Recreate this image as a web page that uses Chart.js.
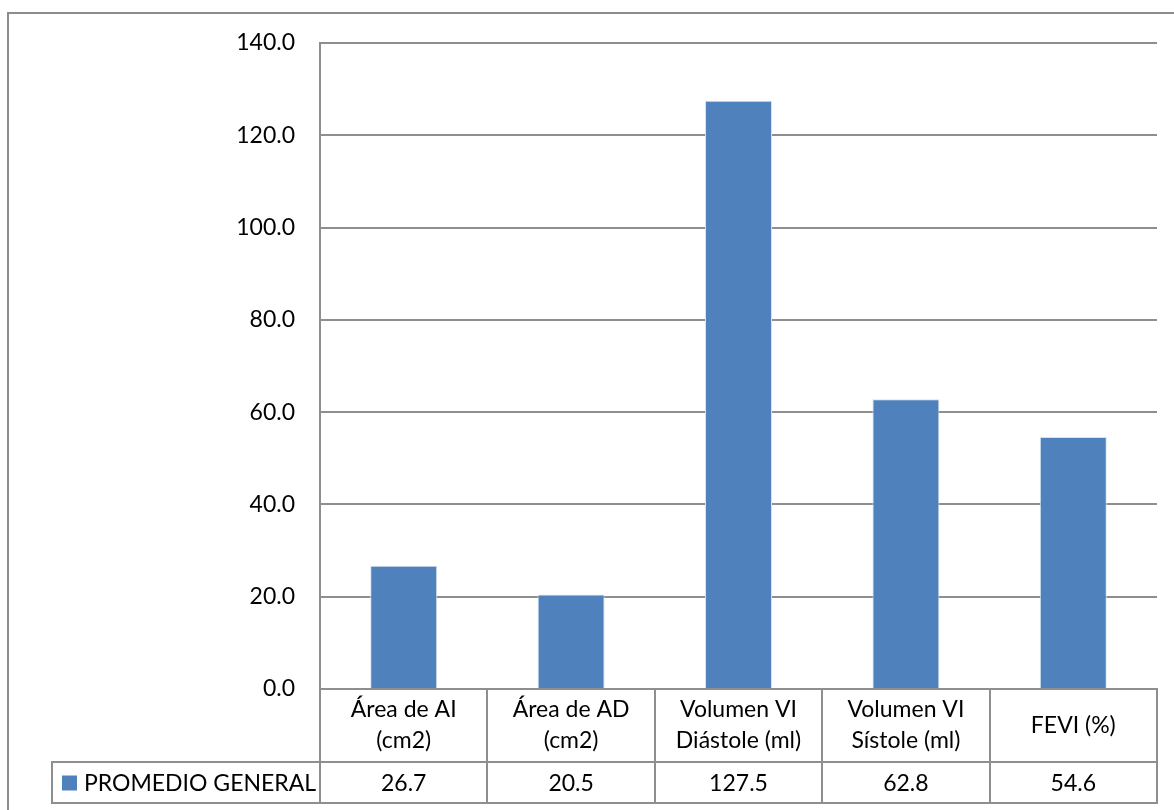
<!DOCTYPE html>
<html>
<head>
<meta charset="utf-8">
<script src="https://cdn.jsdelivr.net/npm/chart.js@4.4.1/dist/chart.umd.min.js"></script>
<style>
  html, body { margin: 0; padding: 0; background: #fff; overflow: hidden; }
  #frame {
    position: absolute; left: 7px; top: 12px; width: 1190px; height: 820px;
    border: 2px solid #8c8c8c; box-sizing: border-box; background: #fff;
  }
  #wrap { position: absolute; left: 0; top: 0; width: 1174px; height: 810px; }
</style>
</head>
<body>
<div id="frame"></div>
<div id="wrap"><canvas id="chart"></canvas></div>
<script>
// Categories (each entry is the label split over lines)
const categories = [
  ["Área de AI", "(cm2)"],
  ["Área de AD", "(cm2)"],
  ["Volumen VI", "Diástole (ml)"],
  ["Volumen VI", "Sístole (ml)"],
  ["FEVI (%)"]
];
const seriesName = "PROMEDIO GENERAL";
const promedioGeneral = [26.7, 20.5, 127.5, 62.8, 54.6];
const yTickValues = [0, 20, 40, 60, 80, 100, 120, 140];

const BAR_BLUE = '#4F81BD';
const LINE_GRAY = '#8e8e8e';
const FONT_FAMILY = 'Lato, "Open Sans", sans-serif';
const FONT_SIZE = 23;

// Data table under the plot: category header row + value row with legend key
const dataTable = {
  id: 'dataTable',
  afterDraw(chart) {
    const { ctx, chartArea: area, scales: { x } } = chart;
    const headerTop = area.bottom;
    const headerBottom = area.bottom + 73;
    const rowBottom = area.bottom + 114;
    const legendLeft = 52;
    const n = categories.length;
    const half = (x.getPixelForValue(1) - x.getPixelForValue(0)) / 2;

    ctx.save();
    ctx.strokeStyle = LINE_GRAY;
    ctx.lineWidth = 2;
    ctx.beginPath();
    // column dividers
    for (let i = 0; i <= n; i++) {
      const px = Math.round(i < n ? x.getPixelForValue(i) - half : x.getPixelForValue(n - 1) + half);
      ctx.moveTo(px, headerTop);
      ctx.lineTo(px, rowBottom);
    }
    // legend cell left edge
    ctx.moveTo(legendLeft, headerBottom);
    ctx.lineTo(legendLeft, rowBottom);
    // horizontal rules
    ctx.moveTo(legendLeft - 1, headerBottom);
    ctx.lineTo(area.right + 1, headerBottom);
    ctx.moveTo(legendLeft - 1, rowBottom);
    ctx.lineTo(area.right + 1, rowBottom);
    ctx.stroke();

    ctx.fillStyle = '#000';
    ctx.font = FONT_SIZE + 'px ' + FONT_FAMILY;
    ctx.textAlign = 'center';
    ctx.textBaseline = 'middle';
    const lineH = 31;
    const headerMid = (headerTop + headerBottom) / 2;
    const rowMid = (headerBottom + rowBottom) / 2;
    categories.forEach((lines, i) => {
      const cx = x.getPixelForValue(i);
      const y0 = headerMid - (lines.length - 1) * lineH / 2;
      lines.forEach((t, j) => ctx.fillText(t, cx, y0 + j * lineH));
      ctx.fillText(promedioGeneral[i].toFixed(1), cx, rowMid + 1);
    });

    // legend key + series name
    ctx.fillStyle = BAR_BLUE;
    ctx.fillRect(legendLeft + 10, rowMid - 7, 15, 15);
    ctx.fillStyle = '#000';
    ctx.textAlign = 'left';
    ctx.fillText(seriesName, legendLeft + 32, rowMid + 1);
    ctx.restore();
  }
};

new Chart(document.getElementById('chart'), {
  type: 'bar',
  data: {
    labels: categories,
    datasets: [{
      label: seriesName,
      data: promedioGeneral,
      backgroundColor: BAR_BLUE,
      borderColor: '#d5e1ef',
      borderWidth: 1,
      borderSkipped: 'bottom',
      barPercentage: 0.4,
      categoryPercentage: 1.0
    }]
  },
  options: {
    responsive: true,
    maintainAspectRatio: false,
    animation: false,
    layout: { padding: { top: 43, right: 17, bottom: 7, left: 0 } },
    plugins: { legend: { display: false }, tooltip: { enabled: false } },
    scales: {
      x: {
        ticks: { display: false },
        grid: { display: false, drawTicks: false },
        border: { display: true, color: LINE_GRAY, width: 2 },
        afterFit(scale) { scale.height = 114; }
      },
      y: {
        min: 0,
        max: 140,
        afterBuildTicks(scale) { scale.ticks = yTickValues.map(v => ({ value: v })); },
        ticks: {
          padding: 25,
          color: '#000',
          font: { family: FONT_FAMILY, size: FONT_SIZE },
          callback: v => v.toFixed(1)
        },
        grid: { color: LINE_GRAY, lineWidth: 2, drawTicks: false },
        border: { display: true, color: LINE_GRAY, width: 2 },
        afterFit(scale) { scale.width = 320; }
      }
    }
  },
  plugins: [dataTable]
});
</script>
</body>
</html>
